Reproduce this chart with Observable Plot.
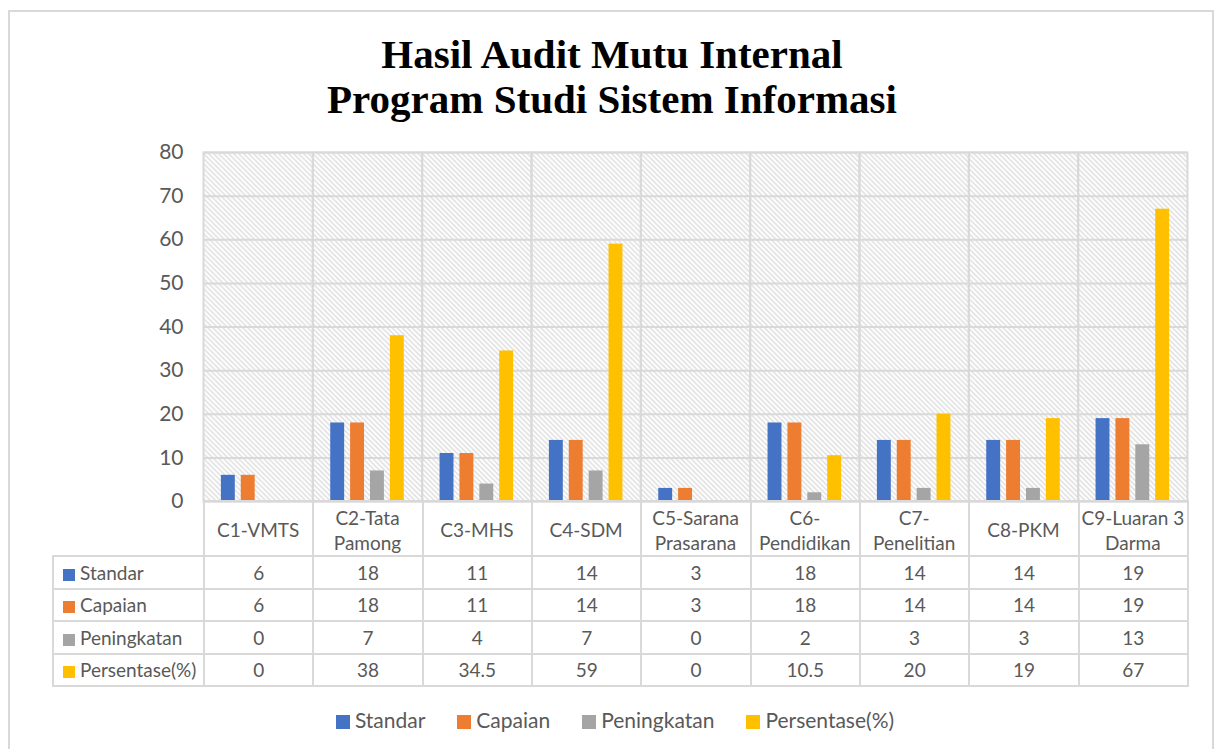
<!DOCTYPE html>
<html><head><meta charset="utf-8">
<script src="https://cdn.jsdelivr.net/npm/d3@7"></script>
<script src="https://cdn.jsdelivr.net/npm/@observablehq/plot@0.6"></script>
<style>
body{margin:0;background:#fff;}
#wrap{position:relative;width:1216px;height:749px;overflow:hidden;font-family:Lato,"Noto Sans",sans-serif;color:#595959;}
#box{position:absolute;left:8px;top:10px;width:1206px;height:780px;border:2px solid #d9d9d9;box-sizing:border-box;}
#title{position:absolute;left:0;width:1224px;top:32px;text-align:center;font-family:"Liberation Serif",serif;font-weight:bold;font-size:41px;line-height:45px;color:#000;}
#chart{position:absolute;left:0;top:0;}
#tbl{position:absolute;left:52px;top:500px;border-collapse:collapse;table-layout:fixed;font-size:19px;color:#595959;z-index:2;}
#tbl td{border:2px solid #d9d9d9;text-align:center;padding:0;box-sizing:border-box;background:transparent;}
#tbl tr.cat td{height:55px;}
#tbl tr.cat td.blank{border-left:none;border-top:none;}
#tbl tr.val td{height:32.5px;}
#tbl td.lab{text-align:left;padding-left:9px;white-space:nowrap;}
.sw{display:inline-block;width:12px;height:12px;margin-right:5px;vertical-align:-1px;}
#legend{position:absolute;left:0;width:1216px;top:707px;display:flex;justify-content:center;gap:32px;font-size:21px;color:#595959;padding-left:14px;box-sizing:border-box;}
#legend .sw{width:14px;height:14px;margin-right:5px;vertical-align:-1px;}
</style></head>
<body>
<div id="wrap">
  <div id="box"></div>
  <div id="title">Hasil Audit Mutu Internal<br>Program Studi Sistem Informasi</div>
  <div id="chart"></div>
  <table id="tbl"></table>
  <div id="legend"></div>
</div>
<script>
const categories = ["C1-VMTS","C2-Tata Pamong","C3-MHS","C4-SDM","C5-Sarana Prasarana","C6-Pendidikan","C7-Penelitian","C8-PKM","C9-Luaran 3 Darma"];
const categoryLabels = ["C1-VMTS","C2-Tata\nPamong","C3-MHS","C4-SDM","C5-Sarana\nPrasarana","C6-\nPendidikan","C7-\nPenelitian","C8-PKM","C9-Luaran 3\nDarma"];
const seriesNames = ["Standar","Capaian","Peningkatan","Persentase(%)"];
const standar = [6,18,11,14,3,18,14,14,19];
const capaian = [6,18,11,14,3,18,14,14,19];
const peningkatan = [0,7,4,7,0,2,3,3,13];
const persentase = [0,38,34.5,59,0,10.5,20,19,67];
const seriesColors = ["#4472C4","#ED7D31","#A5A5A5","#FFC000"];
const yTicks = [0,10,20,30,40,50,60,70,80];

const seriesValues = [standar, capaian, peningkatan, persentase];
const data = [];
categories.forEach((c, i) => seriesNames.forEach((s, j) => data.push({category: c, series: s, value: seriesValues[j][i]})));
const labelData = categories.map((c, i) => ({category: c, label: categoryLabels[i]}));

const chart = Plot.plot({
  width: 1216, height: 560,
  marginTop: 152, marginBottom: 59, marginLeft: 203, marginRight: 29,
  style: {background: "transparent", fontFamily: "Lato", color: "#595959"},
  fx: {domain: categories, padding: 0, axis: null, round: false},
  x: {domain: seriesNames, axis: null, paddingInner: 0.3, paddingOuter: 0.9, round: false},
  y: {domain: [0, 80], axis: null},
  color: {domain: seriesNames, range: seriesColors},
  marks: [
    Plot.frame({fill: "url(#hatch)", stroke: null}),
    Plot.gridY(yTicks, {stroke: "#d9d9d9", strokeOpacity: 1, strokeWidth: 2}),
    Plot.frame({stroke: "#d9d9d9", strokeWidth: 2}),
    Plot.barY(data, {fx: "category", x: "series", y: "value", fill: "series"}),
    Plot.axisY(yTicks, {tickSize: 0, tickPadding: 20, fontSize: 21, fill: "#595959", label: null}),
    Plot.text(labelData, {fx: "category", text: "label", frameAnchor: "bottom", dy: 28, lineAnchor: "middle", fontSize: 19, fill: "#595959", lineHeight: 1.3})
  ]
});

const svg = d3.select(chart);
const defs = svg.insert("defs", ":first-child");
const pat = defs.append("pattern").attr("id", "hatch").attr("patternUnits", "userSpaceOnUse").attr("width", 5).attr("height", 5);
pat.append("rect").attr("width", 5).attr("height", 5).attr("fill", "#ffffff");
pat.append("path").attr("d", "M-1,-1L6,6M-1,4L1,6M4,-1L6,1").attr("stroke", "#d2d2d2").attr("stroke-width", 1.1);
document.getElementById("chart").appendChild(chart);

// data table
const tbl = document.getElementById("tbl");
const colg = document.createElement("colgroup");
const c0 = document.createElement("col"); c0.style.width = "151px"; colg.appendChild(c0);
categories.forEach(() => { const c = document.createElement("col"); c.style.width = (984/9) + "px"; colg.appendChild(c); });
tbl.appendChild(colg);
const trc = document.createElement("tr"); trc.className = "cat";
const blank = document.createElement("td"); blank.className = "blank"; trc.appendChild(blank);
categories.forEach(() => trc.appendChild(document.createElement("td")));
tbl.appendChild(trc);
seriesNames.forEach((s, j) => {
  const tr = document.createElement("tr"); tr.className = "val";
  const lab = document.createElement("td"); lab.className = "lab";
  lab.innerHTML = `<span class="sw" style="background:${seriesColors[j]}"></span>${s}`;
  tr.appendChild(lab);
  seriesValues[j].forEach(v => { const td = document.createElement("td"); td.textContent = v; tr.appendChild(td); });
  tbl.appendChild(tr);
});

// legend
const lg = document.getElementById("legend");
seriesNames.forEach((s, j) => {
  const it = document.createElement("div");
  it.innerHTML = `<span class="sw" style="background:${seriesColors[j]}"></span>${s}`;
  lg.appendChild(it);
});
</script>
</body></html>
